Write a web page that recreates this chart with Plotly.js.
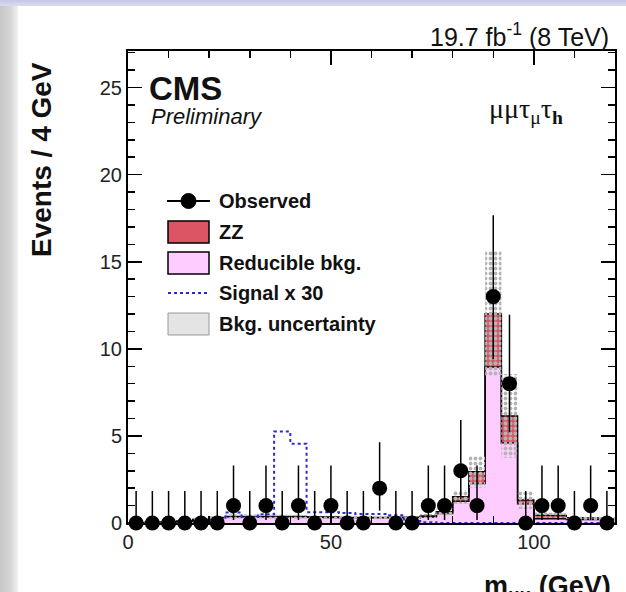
<!DOCTYPE html>
<html>
<head>
<meta charset="utf-8">
<script src="https://cdn.plot.ly/plotly-3.0.1.min.js"></script>
<style>
  html, body { margin:0; padding:0; background:#ffffff; }
  #wrap { position:relative; width:626px; height:592px; overflow:hidden; background:#ffffff; }
  #leftstrip { position:absolute; left:0; top:0; width:18px; height:592px;
     background: linear-gradient(90deg, #c6c6c6 0%, #d6d6d6 60%, #f2f2f2 100%); }
  #topstrip { position:absolute; left:0; top:0; width:626px; height:6px;
     background: linear-gradient(180deg, #c4c6e6 0%, #dcdcf0 100%); }
  #plot { position:absolute; left:0; top:0; width:626px; height:592px; }
</style>
</head>
<body>
<div id="wrap">
  <div id="leftstrip"></div>
  <div id="topstrip"></div>
  <div id="plot"></div>
</div>
<script>
// ---- data (30 bins of 4 GeV from 0 to 120 GeV) ----
const binLow = 0;
const binWidth = 4;
const observed   = [0,0,0,0,0,0,1,0,1,0,1,0,1,0,0,2,0,0,1,1,3,1,13,8,0,1,1,0,1,0];
const obsErrUp   = [1.84,1.84,1.84,1.84,1.84,1.84,2.30,1.84,2.30,1.84,2.30,1.84,2.30,1.84,1.84,2.64,1.84,1.84,2.30,2.30,2.92,2.30,4.67,3.96,1.84,2.30,2.30,1.84,2.30,1.84];
const obsErrDown = [0,0,0,0,0,0,0.83,0,0.83,0,0.83,0,0.83,0,0,1.29,0,0,0.83,0.83,1.63,0.83,3.58,2.79,0,0.83,0.83,0,0.83,0];
const reducible  = [0.02,0.03,0.05,0.10,0.20,0.30,0.36,0.36,0.36,0.36,0.36,0.33,0.32,0.30,0.30,0.30,0.30,0.30,0.35,0.55,1.25,2.27,8.95,4.60,1.10,0.25,0.25,0.20,0.20,0.20];
const zz         = [0,0,0,0,0,0.01,0.02,0.02,0.02,0.02,0.02,0.02,0.02,0.02,0.02,0.02,0.03,0.03,0.05,0.10,0.25,0.67,3.07,1.55,0.22,0.20,0.18,0.10,0.08,0.05];
const bkgUnc     = [0.01,0.01,0.02,0.04,0.08,0.10,0.12,0.12,0.12,0.12,0.12,0.11,0.11,0.10,0.10,0.10,0.10,0.10,0.12,0.20,0.40,0.90,3.60,2.40,0.50,0.15,0.15,0.10,0.10,0.10];
const signal30   = [0,0,0,0,0.05,0.20,0.60,0.35,0.50,5.25,4.55,0.62,0.62,0.58,0.52,0.52,0.45,0.12,0.05,0,0,0,0,0,0,0,0,0,0,0];
const xTickVals = [0, 50, 100];
const yTickVals = [0, 5, 10, 15, 20, 25];

// ---- derived ----
const nb = observed.length;
const edges = [];
for (let i = 0; i <= nb; i++) edges.push(binLow + i * binWidth);
const centers = observed.map((_, i) => binLow + (i + 0.5) * binWidth);
const total = reducible.map((v, i) => v + zz[i]);
const step = a => a.concat([a[a.length - 1]]);

const uncX = [], uncY = [];
for (let i = 0; i < nb; i++) { uncX.push(edges[i], edges[i+1]); uncY.push(total[i] + bkgUnc[i], total[i] + bkgUnc[i]); }
for (let i = nb - 1; i >= 0; i--) { const lo = Math.max(0, total[i] - bkgUnc[i]); uncX.push(edges[i+1], edges[i]); uncY.push(lo, lo); }

const traces = [
  { x: edges, y: step(reducible), type: 'scatter', mode: 'lines', line: {shape: 'hv', color: '#000', width: 1.5},
    fill: 'tozeroy', fillcolor: '#ffccff', hoverinfo: 'skip', showlegend: false },
  { x: edges, y: step(total), type: 'scatter', mode: 'lines', line: {shape: 'hv', color: '#000', width: 1.5},
    fill: 'tonexty', fillcolor: '#dc5565', hoverinfo: 'skip', showlegend: false },
  { x: uncX, y: uncY, type: 'scatter', mode: 'lines', fill: 'toself', fillcolor: 'rgba(0,0,0,0)',
    fillpattern: {shape: '.', fgcolor: '#b4b4b4', bgcolor: 'rgba(0,0,0,0)', size: 5, solidity: 0.45},
    line: {width: 0, color: 'rgba(0,0,0,0)'}, hoverinfo: 'skip', showlegend: false },
  { x: edges, y: step(signal30), type: 'scatter', mode: 'lines', line: {shape: 'hv', color: '#2a2ad8', width: 2, dash: 'dot'},
    hoverinfo: 'skip', showlegend: false },
  { x: centers, y: observed, type: 'scatter', mode: 'markers', cliponaxis: false,
    marker: {color: '#000', size: 15, symbol: 'circle'},
    error_y: {type: 'data', symmetric: false, array: obsErrUp, arrayminus: obsErrDown, color: '#000', thickness: 1.5, width: 0},
    showlegend: false }
];

// pixel helpers for the frame: x 128..615, y 51..523
const L = 128, R = 615, T = 51, B = 523;
const px = p => (p - L) / (R - L);
const py = p => (B - p) / (B - T);

const legRows = [201, 232, 263, 293, 324];
const legText = ['Observed', 'ZZ', 'Reducible bkg.', 'Signal x 30', 'Bkg. uncertainty'];
const shapes = [
  {type: 'line', xref: 'paper', yref: 'paper', x0: px(167), x1: px(210), y0: py(legRows[0]), y1: py(legRows[0]), line: {color: '#000', width: 2}},
  {type: 'circle', xref: 'paper', yref: 'paper', x0: px(181), x1: px(196), y0: py(legRows[0] + 7.5), y1: py(legRows[0] - 7.5), fillcolor: '#000', line: {color: '#000', width: 1}},
  {type: 'rect', xref: 'paper', yref: 'paper', x0: px(168), x1: px(209), y0: py(legRows[1] + 11), y1: py(legRows[1] - 11), fillcolor: '#dc5565', line: {color: '#000', width: 1.5}},
  {type: 'rect', xref: 'paper', yref: 'paper', x0: px(168), x1: px(209), y0: py(legRows[2] + 11), y1: py(legRows[2] - 11), fillcolor: '#ffccff', line: {color: '#000', width: 1.5}},
  {type: 'line', xref: 'paper', yref: 'paper', x0: px(168), x1: px(209), y0: py(legRows[3]), y1: py(legRows[3]), line: {color: '#2a2ad8', width: 2, dash: 'dot'}},
  {type: 'rect', xref: 'paper', yref: 'paper', x0: px(168), x1: px(209), y0: py(legRows[4] + 11), y1: py(legRows[4] - 11), fillcolor: '#e4e4e4', line: {color: '#999999', width: 1}}
];

const font = 'Liberation Sans, Arial, Helvetica, sans-serif';
const annotations = legText.map((t, i) => ({
  text: '<b>' + t + '</b>', xref: 'paper', yref: 'paper', x: px(217), y: py(legRows[i]),
  xanchor: 'left', yanchor: 'middle', showarrow: false, font: {family: font, size: 20, color: '#111'}
}));
annotations.push(
  {text: '<b>CMS</b>', xref: 'paper', yref: 'paper', x: px(147), y: py(88), xanchor: 'left', yanchor: 'middle', showarrow: false,
   font: {family: font, size: 33, color: '#111'}},
  {text: '<i>Preliminary</i>', xref: 'paper', yref: 'paper', x: px(149), y: py(117), xanchor: 'left', yanchor: 'middle', showarrow: false,
   font: {family: font, size: 22, color: '#111'}},
  {text: '19.7 fb<sup>-1</sup> (8 TeV)', xref: 'paper', yref: 'paper', x: px(611), y: py(35), xanchor: 'right', yanchor: 'middle', showarrow: false,
   font: {family: font, size: 25, color: '#111'}},
  {text: 'μμτ<sub>μ</sub>τ<sub><b>h</b></sub>', xref: 'paper', yref: 'paper', x: px(487), y: py(110), xanchor: 'left', yanchor: 'middle', showarrow: false,
   font: {family: 'Liberation Serif, Times New Roman, serif', size: 28, color: '#111'}},
  {text: '<b>Events / 4 GeV</b>', xref: 'paper', yref: 'paper', x: px(41), y: py(160), xanchor: 'center', yanchor: 'middle', textangle: -90, showarrow: false,
   font: {family: font, size: 28, color: '#111'}},
  {text: '<b>m<sub>μμ</sub> (GeV)</b>', xref: 'paper', yref: 'paper', x: px(613), y: py(569), xanchor: 'right', yanchor: 'top', showarrow: false,
   font: {family: font, size: 27, color: '#111'}}
);

const layout = {
  width: 626, height: 592,
  margin: {l: L, r: 626 - R, t: T, b: 592 - B, pad: 0},
  paper_bgcolor: 'rgba(0,0,0,0)', plot_bgcolor: '#ffffff',
  showlegend: false,
  xaxis: {range: [0, 120], showgrid: false, zeroline: false, showline: true, linecolor: '#000', linewidth: 2, mirror: 'allticks',
          ticks: 'inside', ticklen: 14, tickwidth: 1.5, tickcolor: '#000', tickvals: xTickVals,
          minor: {dtick: 10, tick0: 0, ticks: 'inside', ticklen: 7, tickwidth: 1.5, tickcolor: '#000', showgrid: false},
          tickfont: {family: font, size: 20, color: '#222'}, fixedrange: true},
  yaxis: {range: [0, 27.1], showgrid: false, zeroline: false, showline: true, linecolor: '#000', linewidth: 2, mirror: 'allticks',
          ticks: 'inside', ticklen: 14, tickwidth: 1.5, tickcolor: '#000', tickvals: yTickVals,
          minor: {dtick: 1, tick0: 0, ticks: 'inside', ticklen: 7, tickwidth: 1.5, tickcolor: '#000', showgrid: false},
          tickfont: {family: font, size: 20, color: '#222'}, fixedrange: true},
  shapes: shapes,
  annotations: annotations
};

Plotly.newPlot('plot', traces, layout, {displayModeBar: false, staticPlot: true});
</script>
</body>
</html>
